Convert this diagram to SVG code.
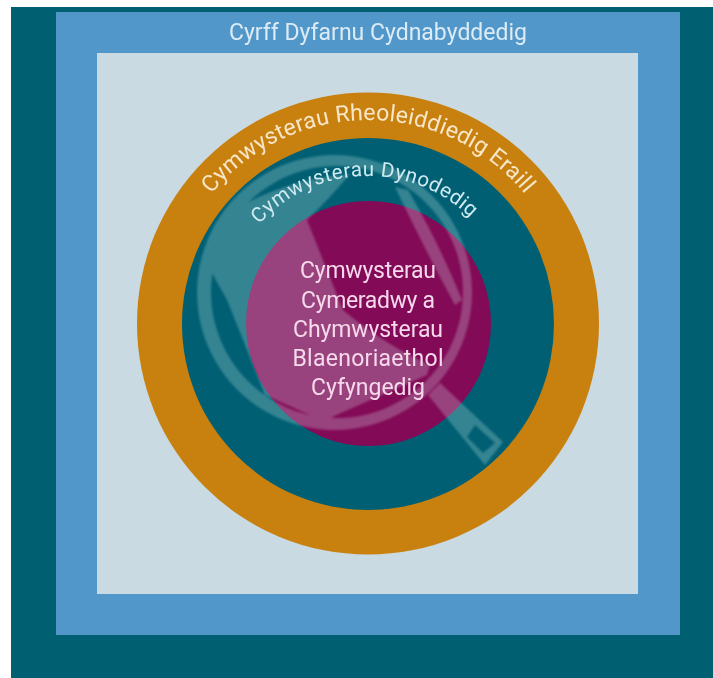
<svg xmlns="http://www.w3.org/2000/svg" width="713" height="678" viewBox="0 0 713 678">
<style>
text{font-family:Roboto,"Noto Sans","Liberation Sans",sans-serif;font-weight:400;text-anchor:middle}
.center{font-size:23px;fill:#f7d9ec}
</style>
<defs>
<path id="arcOuter" d="M165,323 A203,203 0 0 1 571,323"/>
<path id="arcInner" d="M221,323 A147,147 0 0 1 515,323"/>
<filter id="soft" x="-5%" y="-5%" width="110%" height="110%"><feGaussianBlur stdDeviation="0.9"/></filter>
<filter id="softText" x="-5%" y="-20%" width="110%" height="140%"><feGaussianBlur stdDeviation="0.3"/></filter>
</defs>
<rect width="713" height="678" fill="#fff"/>
<g id="node-outer"><rect x="11" y="7" width="702" height="671" fill="#005f70"/></g>
<g id="node-awarding">
<rect x="56" y="12" width="624" height="623" fill="#5297c9"/>
<text x="378" y="40" font-size="23" fill="#dcebf5" textLength="298" lengthAdjust="spacing" filter="url(#softText)">Cyrff Dyfarnu Cydnabyddedig</text>
</g>
<g id="node-panel"><rect x="97" y="53" width="541" height="541" fill="#c9dae3"/></g>
<g id="node-regulated"><circle cx="368" cy="323.5" r="231" fill="#c8800f"/></g>
<g id="node-designated"><circle cx="368" cy="324" r="186" fill="#005f73"/></g>
<g id="node-approved"><circle cx="368.5" cy="323.5" r="122.5" fill="#820a57"/></g>
<g id="magnifier" fill="#e4fffa" opacity=".23" filter="url(#soft)">
<path fill-rule="evenodd" d="M334.5,155a137.5,137.5 0 1 0 .01,0zM337,166a126,126 0 1 1 -.01,0z"/>
<path fill-rule="evenodd" d="M428,395L440,383L503,442L485,465zM475,425L495,443L483,453L467,437z"/>
<path d="M240,207Q285,180 350,174Q330,198 307,220L343,310Q385,345 430,365L427,375L332,417L332,425L265,395L227,300L212,273L205,270L225,210z"/>
<path d="M395,187L408,190Q440,245 462,300L455,305Q425,250 395,187z"/>
</g>
<g id="labels">
<text font-size="23" fill="#f7e6c8" filter="url(#softText)"><textPath href="#arcOuter" startOffset="50%" textLength="358" lengthAdjust="spacing">Cymwysterau Rheoleiddiedig Eraill</textPath></text>
<text font-size="20.5" fill="#cfeaf0" filter="url(#softText)"><textPath href="#arcInner" startOffset="49%" textLength="236" lengthAdjust="spacing">Cymwysterau Dynodedig</textPath></text>
<g filter="url(#softText)">
<text class="center" x="368" y="278" textLength="136" lengthAdjust="spacing">Cymwysterau</text>
<text class="center" x="368" y="308" textLength="134" lengthAdjust="spacing">Cymeradwy a</text>
<text class="center" x="368" y="337" textLength="150" lengthAdjust="spacing">Chymwysterau</text>
<text class="center" x="368" y="366" textLength="151" lengthAdjust="spacing">Blaenoriaethol</text>
<text class="center" x="368" y="395" textLength="114" lengthAdjust="spacing">Cyfyngedig</text>
</g>
</g>
</svg>
